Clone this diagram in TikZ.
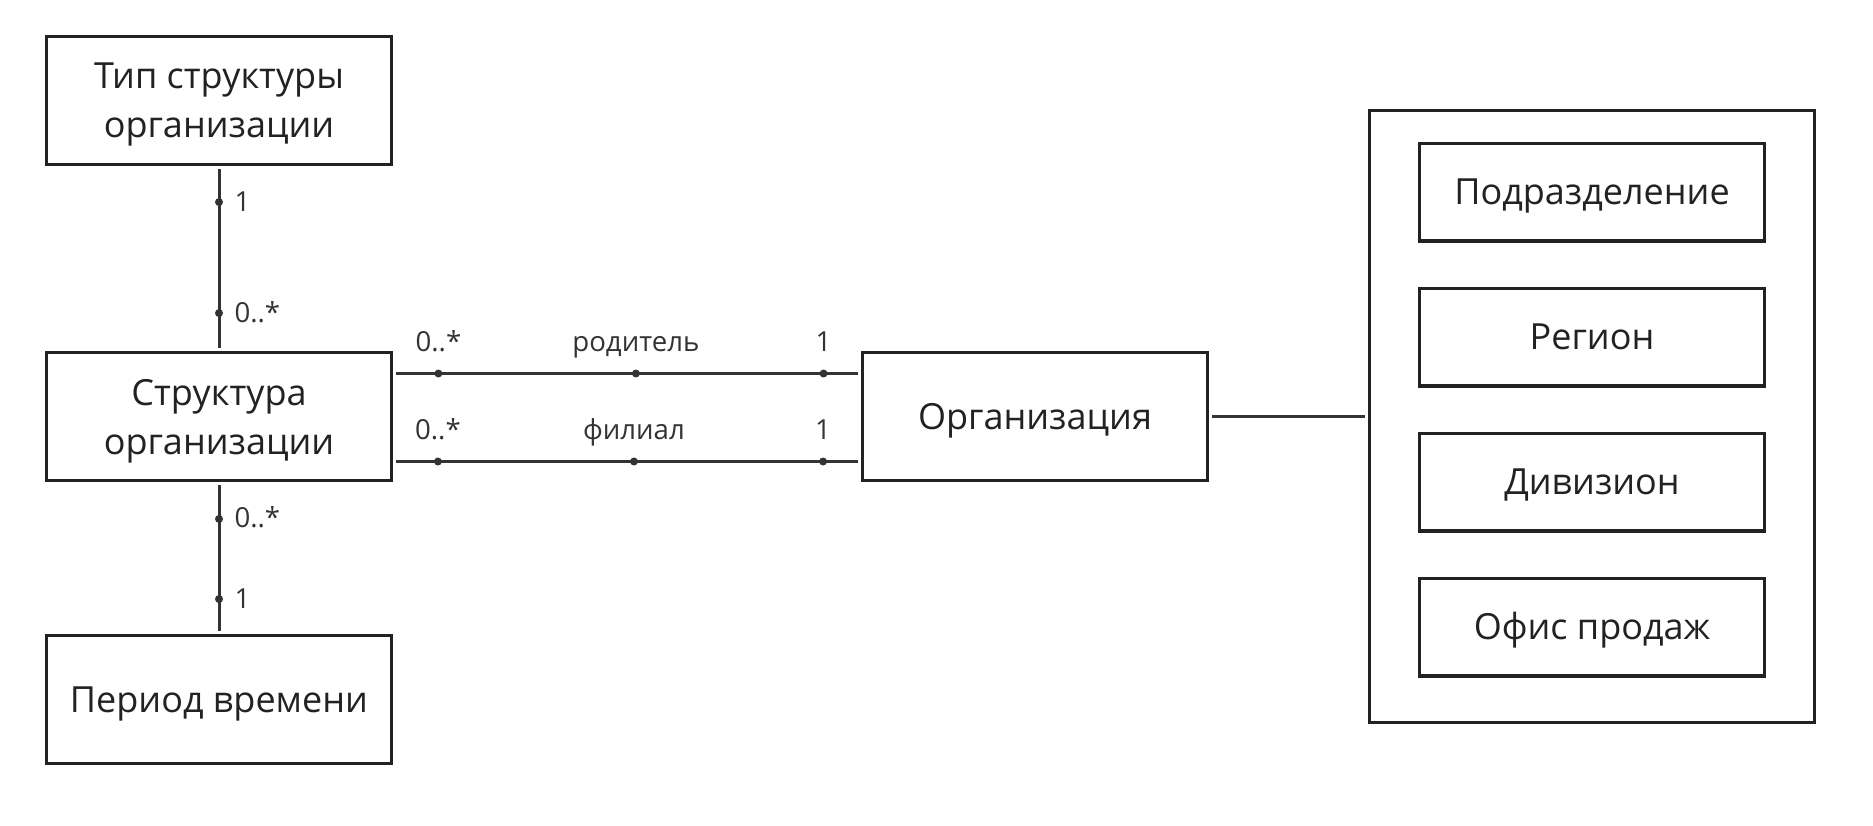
\documentclass[tikz,border=0pt]{standalone}
\usepackage{fontspec}
\setmainfont{Open Sans}
\usepackage{tikz}
\usetikzlibrary{positioning}
\definecolor{ink}{HTML}{222222}
\definecolor{wire}{HTML}{333333}
\tikzset{
    %Define style for boxes
    entity/.style={
           rectangle,
           draw=ink, line width=1.7pt,
           minimum width=172.3pt,
           minimum height=63.8pt,
           inner sep=0pt,
           align=center,
           text=ink,
           text depth=0pt,
           font=\fontsize{18}{24.5}\selectfont},
    single/.style={
           entity,
           text height=12.5pt},
    item/.style={
           single,
           minimum height=48.6pt},
    groupbox/.style={
           rectangle,
           draw=ink, line width=1.7pt,
           minimum width=222.3pt,
           minimum height=306.2pt},
    %Define style for link dots and multiplicities
    joint/.style={
           circle,
           fill=wire,
           inner sep=0pt,
           minimum size=4pt},
    mult/.style={
           inner sep=0pt,
           text=wire,
           font=\fontsize{13.8}{15}\selectfont},
    % Define line style
    link/.style={
           draw=wire,
           line width=1.5pt,
           shorten <=1.5pt,
           shorten >=1.5pt}
}
\begin{document}
\begin{tikzpicture}[x=0.5pt,y=-0.5pt]
\useasboundingbox (0,0) rectangle (1873,825);

 %nodes
\node[entity] (tip) at (219,100.5) {Тип структуры\\организации};
\node[entity, below=92.5pt of tip] (struct) {Структура\\организации};
\node[single, below=76pt of struct] (period) {Период времени};
\node[single, right=234pt of struct] (org) {Организация};
\node[groupbox, right=79.5pt of org] (units) {};
\node[item, below=16.7pt of units.north] (subdiv) {Подразделение};
\node[item, below=22.2pt of subdiv] (region) {Регион};
\node[item, below=22.2pt of region] (division) {Дивизион};
\node[item, below=22.2pt of division] (office) {Офис продаж};

 %links
\draw[link] (tip) --
    node[joint, pos=.195]{} node[mult, pos=.195, anchor=base west, xshift=7pt, yshift=-4.5pt]{1}
    node[joint, pos=.795]{} node[mult, pos=.795, anchor=base west, xshift=7pt, yshift=-4.5pt]{0..*}
    (struct);
\draw[link] (struct) --
    node[joint, pos=.243]{} node[mult, pos=.243, anchor=base west, xshift=7pt, yshift=-4.5pt]{0..*}
    node[joint, pos=.77]{} node[mult, pos=.77, anchor=base west, xshift=7pt, yshift=-4.5pt]{1}
    (period);
\draw[link] ([yshift=21.5pt]struct.east) --
    node[joint, pos=.097]{} node[mult, pos=.097, anchor=base, yshift=11pt]{0..*}
    node[joint, pos=.519]{} node[mult, pos=.519, anchor=base, yshift=11pt]{родитель}
    node[joint, pos=.92]{} node[mult, pos=.92, anchor=base, yshift=11pt]{1}
    ([yshift=21.5pt]org.west);
\draw[link] ([yshift=-22.5pt]struct.east) --
    node[joint, pos=.096]{} node[mult, pos=.096, anchor=base, yshift=11pt]{0..*}
    node[joint, pos=.515]{} node[mult, pos=.515, anchor=base, yshift=11pt]{филиал}
    node[joint, pos=.919]{} node[mult, pos=.919, anchor=base, yshift=11pt]{1}
    ([yshift=-22.5pt]org.west);
\draw[link] (org) -- (units);
\end{tikzpicture}
\end{document}
